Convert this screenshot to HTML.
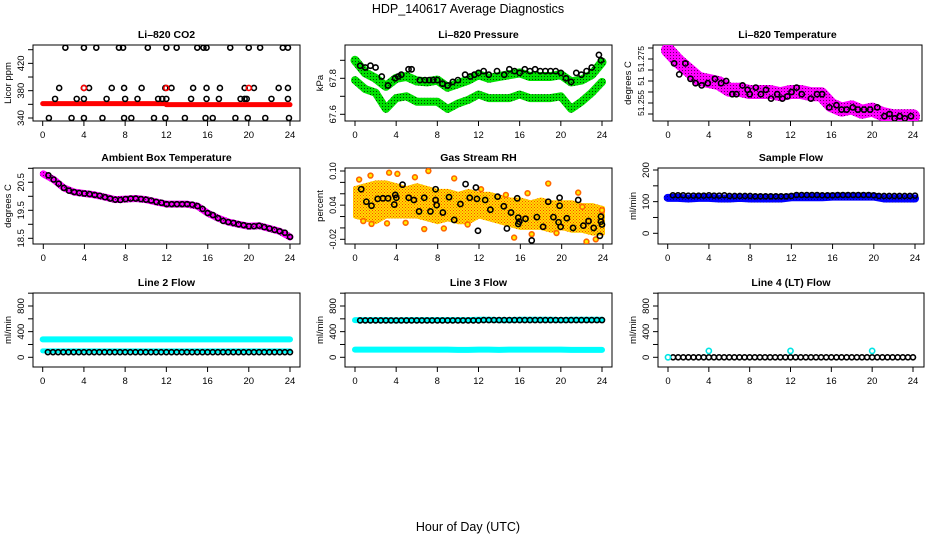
<!DOCTYPE html>
<html><head><meta charset="utf-8"><style>
body{margin:0;background:#fff}
svg{display:block;font-family:"Liberation Sans",sans-serif}
</style></head><body>
<svg id="c" width="936" height="540" viewBox="0 0 936 540" xmlns="http://www.w3.org/2000/svg">
<defs>
<pattern id="pG" width="3" height="3" patternUnits="userSpaceOnUse"><rect width="3" height="3" fill="#00e000"/><rect x="1" y="1" width="1" height="1" fill="#004400"/></pattern>
<pattern id="pM" width="3" height="3" patternUnits="userSpaceOnUse"><rect width="3" height="3" fill="#ff00ff"/><rect x="1" y="1" width="1" height="1" fill="#660066"/></pattern>
<pattern id="pO" width="3" height="3" patternUnits="userSpaceOnUse"><rect width="3" height="3" fill="#ffdd00"/><rect x="0" y="0" width="1" height="1" fill="#ff4400"/><rect x="1.5" y="1.5" width="1" height="1" fill="#ff4400"/></pattern>
<pattern id="pB" width="3" height="3" patternUnits="userSpaceOnUse"><rect width="3" height="3" fill="#0000ff"/><rect x="1" y="1" width="1" height="1" fill="#000088"/></pattern>
</defs>
<text x="468" y="13" text-anchor="middle" font-size="12.5">HDP_140617  Average Diagnostics</text>
<text x="468" y="531" text-anchor="middle" font-size="12.5">Hour of Day (UTC)</text>
</svg>
<script>
// ---- data ----
const xTicks=[0,4,8,12,16,20,24];
// CO2
const co2BandH=[0,12,12,24];
const co2BandV=[361,361,359.5,359.5];
const co2TopH=[2.2,4,5.2,7.4,7.8,10.2,12,13,15,15.6,15.9,18.2,20,21.1,23.3,23.8];
const co2MidH=[1.6,4,4.5,6.7,7.9,9.6,11.9,12.5,14.6,15.9,17.2,19.6,20.5,22.9,23.8];
const co2LowH=[1.2,3.3,4,6.2,8,9.2,11.2,11.6,12,14.4,15.9,17.1,19.2,19.6,19.8,22.2,23.8];
const co2BotH=[0.6,2.8,4,5.8,7.9,8.6,10.8,11.9,13.8,15.8,16.5,18.7,19.9,21.6,23.9];
const co2Levels=[443,384,368,340];
const co2RedH=[4,12,20];
// Pressure
const hrs=[0,1,2,3,4,5,6,7,8,9,10,11,12,13,14,15,16,17,18,19,20,21,22,23,24];
const presUpper=[67.9,67.83,67.8,67.755,67.8,67.81,67.785,67.78,67.79,67.75,67.77,67.79,67.82,67.8,67.81,67.82,67.83,67.81,67.81,67.81,67.82,67.78,67.79,67.82,67.89];
const presLower=[67.79,67.74,67.72,67.63,67.69,67.7,67.67,67.67,67.67,67.63,67.66,67.68,67.71,67.69,67.69,67.69,67.71,67.69,67.69,67.69,67.7,67.63,67.67,67.72,67.78];
const presBlkH=[0.5,1,1.5,2,2.6,3.2,3.9,4.2,4.5,5.2,5.5,6.3,6.8,7.2,7.6,8,8.5,9,9.5,10,10.7,11.2,11.6,12,12.5,13,13.8,14.5,15,15.5,16,16.5,17,17.5,18,18.5,19,19.5,20,20.5,21,21.5,22,22.5,23,23.7,23.9];
const presBlkV=[67.87,67.86,67.87,67.86,67.81,67.76,67.8,67.81,67.82,67.85,67.85,67.79,67.79,67.79,67.79,67.79,67.77,67.76,67.78,67.79,67.82,67.81,67.82,67.83,67.84,67.82,67.84,67.82,67.85,67.84,67.83,67.85,67.84,67.85,67.84,67.84,67.84,67.84,67.83,67.8,67.78,67.83,67.82,67.84,67.86,67.93,67.9];
// Li-820 temperature
const tempBand=[51.279,51.274,51.27,51.266,51.265,51.264,51.261,51.261,51.26,51.26,51.26,51.259,51.26,51.26,51.259,51.259,51.254,51.252,51.253,51.251,51.252,51.25,51.249,51.249,51.249];
const tempBlkH=[0.6,1.1,1.7,2.2,2.7,3.3,3.9,4.6,5.2,5.7,6.3,6.7,7.3,7.8,8,8.6,9.1,9.6,10.1,10.7,11.2,11.7,12.1,12.6,13.1,14,14.6,15.1,15.8,16.5,17,17.5,18.1,18.6,19.2,19.8,20.5,21.2,21.7,22.2,22.7,23.2,23.8];
const tempBlkV=[51.273,51.268,51.273,51.266,51.264,51.263,51.264,51.266,51.264,51.265,51.259,51.259,51.263,51.261,51.259,51.262,51.259,51.261,51.257,51.259,51.257,51.258,51.26,51.262,51.259,51.257,51.259,51.259,51.253,51.254,51.252,51.252,51.253,51.252,51.252,51.252,51.253,51.249,51.25,51.248,51.249,51.248,51.249];
// Ambient
const ambBand=[20.8,20.6,20.3,20.15,20.1,20.05,19.97,19.88,19.9,19.92,19.88,19.8,19.72,19.72,19.72,19.65,19.4,19.22,19.08,19.0,18.93,18.95,18.85,18.75,18.55];
const halfH=[0.5,1,1.5,2,2.5,3,3.5,4,4.5,5,5.5,6,6.5,7,7.5,8,8.5,9,9.5,10,10.5,11,11.5,12,12.5,13,13.5,14,14.5,15,15.5,16,16.5,17,17.5,18,18.5,19,19.5,20,20.5,21,21.5,22,22.5,23,23.5,24];
const ambBlk=[20.75,20.6,20.45,20.3,20.2,20.15,20.12,20.1,20.08,20.05,20.02,19.97,19.92,19.88,19.87,19.9,19.92,19.92,19.9,19.88,19.85,19.8,19.77,19.72,19.72,19.72,19.72,19.72,19.7,19.65,19.55,19.4,19.33,19.22,19.12,19.08,19.05,19.0,18.97,18.93,18.93,18.95,18.9,18.85,18.8,18.75,18.7,18.55];
// RH
const rhUpper=[0.07,0.075,0.08,0.08,0.075,0.07,0.075,0.07,0.065,0.065,0.06,0.065,0.06,0.06,0.055,0.05,0.05,0.045,0.05,0.045,0.045,0.045,0.04,0.04,0.035];
const rhLower=[0.02,0.015,0.01,0.02,0.02,0.02,0.02,0.015,0.01,0.015,0.01,0.01,0.02,0.015,0.01,0.005,0,0,0,-0.005,0,-0.005,-0.005,-0.01,-0.01];
const rhOutH=[0.4,1.5,0.8,1.6,3.3,3.1,4.1,4.9,5.8,6.7,7.1,8.6,9.6,10.9,12.2,14.6,15.4,16.7,17.1,18.7,19.5,21.6,22,22.4,23.3,23.9];
const rhOutV=[0.085,0.092,0.012,0.007,0.097,0.008,0.095,0.009,0.089,-0.002,0.1,-0.001,0.087,0.006,0.068,0.058,-0.017,0.061,-0.011,0.078,-0.009,0.062,0.037,-0.024,-0.02,0.031];
const rhBlkH=[0.6,1.1,1.6,2.2,2.7,3.2,3.8,3.9,4,4.6,5.2,5.7,6.2,6.7,7.3,7.8,7.8,7.9,8.5,9.1,9.6,10.2,10.7,11.1,11.7,11.8,11.9,12.6,13.1,13.8,14.4,14.7,15.1,15.7,15.8,15.9,15.8,16.5,17.1,17.6,18.2,18.7,19.2,19.7,19.8,19.8,19.9,20.5,21.1,21.6,22.1,22.6,23.1,23.8,23.8,23.7,23.9];
const rhBlkV=[0.068,0.046,0.039,0.051,0.052,0.052,0.041,0.058,0.053,0.076,0.053,0.049,0.029,0.053,0.029,0.068,0.049,0.04,0.027,0.054,0.014,0.042,0.077,0.053,0.071,0.051,-0.005,0.049,0.032,0.055,0.038,-0.001,0.027,0.052,0.018,0.011,0.007,0.016,-0.022,0.019,0.002,0.046,0.019,0.01,0.039,0.053,0.002,0.017,0,0.049,0.004,0.012,0,0.02,0.011,-0.014,0.006];
// Flows
const sampBand=[112,112,110,112,112,110,110,112,110,110,110,110,114,114,114,114,116,116,116,116,116,110,110,110,110];
const sampBlk=[120,120,120,119,119,119,119,120,119,119,120,118,118,118,118,118,117,117,117,117,117,117,117,118,121,121,121,121,121,120,120,120,121,121,121,121,121,121,121,120,118,118,118,118,118,118,118,119];
const l2Cyan1=[280,280,280,280,280,280,280,280,280,280,280,280,280,280,280,280,280,280,280,280,280,280,280,280,280];
const l2Cyan2=[100,100,100,100,100,100,100,100,100,100,100,100,100,100,100,100,100,100,100,100,100,100,100,100,100];
const l2Blk=[80,80,80,80,80,80,80,80,80,80,80,80,80,80,80,80,80,80,80,80,80,80,80,80,80,80,80,80,80,80,80,80,80,80,80,80,80,80,80,80,80,80,80,80,80,80,80,80];
const l3Cyan1=[580,580,580,580,575,580,580,580,580,580,580,580,585,585,580,580,585,585,585,585,580,585,585,585,585];
const l3Cyan2=[120,120,120,120,120,120,120,120,120,120,115,115,120,120,115,120,120,120,120,120,120,115,115,115,115];
const l3Blk=[575,575,575,575,575,575,575,575,575,575,575,575,575,575,575,575,575,575,575,575,575,575,575,575,580,580,580,580,580,580,580,580,580,580,580,580,580,580,580,580,580,580,580,580,580,580,580,580];
const l4Blk=[0,0,0,0,0,0,0,0,0,0,0,0,0,0,0,0,0,0,0,0,0,0,0,0,0,0,0,0,0,0,0,0,0,0,0,0,0,0,0,0,0,0,0,0,0,0,0,0];
const l4CyanH=[0,4,12,20];
const l4CyanV=[0,100,100,100];

// ---- drawing ----
const svg=document.getElementById('c');
const NS='http://www.w3.org/2000/svg';
function mk(tag,attrs,parent){const e=document.createElementNS(NS,tag);for(const k in attrs)e.setAttribute(k,attrs[k]);(parent||svg).appendChild(e);return e;}
function lin(d0,d1,r0,r1){return v=>r0+(v-d0)*(r1-r0)/(d1-d0);}

function panel(p){
  const g=mk('g',{});
  
  
  p.g=g;
  p.x=lin(0,24,p.x0,p.x24);
  p.y=lin(p.v0,p.v1,p.y0,p.y1);
  const b=mk('rect',{x:p.L,y:p.T,width:p.R-p.L,height:p.B-p.T,fill:'none',stroke:'#000','stroke-width':1},g);
  
  
  const t=mk('text',{x:(p.L+p.R)/2,y:p.T-7,'text-anchor':'middle','font-size':10.5,'font-weight':'bold'},g);
  t.textContent=p.title;
  
  
  const xa=mk('g',{},g);
  
  
  xTicks.forEach(v=>{
    const X=p.x(v);
    mk('line',{x1:X,x2:X,y1:p.B,y2:p.B+5,stroke:'#000'},xa);
    const tl=mk('text',{x:X,y:p.B+17,'text-anchor':'middle','font-size':9.5},xa);
    tl.textContent=v;
    
    
  });
  const ya=mk('g',{},g);
  
  
  p.yt.forEach(v=>{const Y=p.y(v);mk('line',{x1:p.L-5,x2:p.L,y1:Y,y2:Y,stroke:'#000'},ya);});
  p.yl.forEach((v,i)=>{
    const Y=p.y(v);
    const tl=mk('text',{x:0,y:0,'text-anchor':'middle','font-size':p.yfs||9.5,transform:`translate(${p.L-9},${Y}) rotate(-90)`},ya);
    tl.textContent=p.ylt?p.ylt[i]:v;
    
    
  });
  const yt=mk('text',{x:0,y:0,'text-anchor':'middle','font-size':9.5,transform:`translate(${p.L-22},${(p.T+p.B)/2}) rotate(-90)`},g);
  yt.textContent=p.ylab;
  
  
  const cid='cl'+p.name;
  const cp=mk('clipPath',{id:cid});
  mk('rect',{x:p.L,y:p.T,width:p.R-p.L,height:p.B-p.T},cp);
  p.m=mk('g',{'clip-path':`url(#${cid})`},g);
  return p;
}
function band(p,H,V,stroke,w,name){
  const pts=H.map((h,i)=>p.x(h)+','+p.y(V[i])).join(' ');
  const e=mk('polyline',{points:pts,fill:'none',stroke:stroke,'stroke-width':w,'stroke-linejoin':'round','stroke-linecap':'round'},p.m);
  
  
}
function pts(p,H,V,color,r,name,fill){
  const g=mk('g',{},p.m);
  
  
  H.forEach((h,i)=>{mk('circle',{cx:p.x(h),cy:p.y(V[i]),r:r,fill:fill||'none',stroke:color,'stroke-width':1.6},g);});
}

// Row 1
const p1=panel({name:'co2-panel',title:'Li\u2013820 CO2',ylab:'Licor ppm',L:33,R:300,T:45,B:121,x0:42.7,x24:290,v0:340,v1:440,y0:118,y1:49.7,yt:[340,360,380,400,420,440],yl:[340,380,420]});
band(p1,co2BandH,co2BandV,'#ff0000',5,'co2-red-band');
pts(p1,co2TopH,co2TopH.map(()=>co2Levels[0]),'#000',2.5,'co2-points-443');
pts(p1,co2MidH,co2MidH.map(()=>co2Levels[1]),'#000',2.5,'co2-points-384');
pts(p1,co2LowH,co2LowH.map(()=>co2Levels[2]),'#000',2.5,'co2-points-368');
pts(p1,co2BotH,co2BotH.map(()=>co2Levels[3]),'#000',2.5,'co2-points-340');
pts(p1,co2RedH,co2RedH.map(()=>co2Levels[1]),'#ff0000',2.5,'co2-red-points');

const p2=panel({name:'pressure-panel',title:'Li\u2013820 Pressure',ylab:'kPa',L:345,R:612,T:45,B:121,x0:355,x24:602,v0:67.6,v1:67.8,y0:114.3,y1:78.3,yt:[67.6,67.7,67.8,67.9],yl:[67.6,67.8]});
band(p2,hrs,presUpper,'url(#pG)',9,'pressure-upper-band');
band(p2,hrs,presLower,'url(#pG)',8,'pressure-lower-band');
pts(p2,presBlkH,presBlkV,'#000',2.6,'pressure-black-points');

const p3=panel({name:'li820-temperature-panel',title:'Li\u2013820 Temperature',ylab:'degrees C',L:653,R:922,T:45,B:121,x0:668,x24:913,v0:51.25,v1:51.28,y0:114,y1:48,yt:[51.25,51.255,51.26,51.265,51.27,51.275,51.28],yl:[51.255,51.265,51.275],ylt:['51.255','51','51.275'],yfs:8.5});
band(p3,hrs,tempBand,'url(#pM)',14,'temperature-magenta-band');
pts(p3,tempBlkH,tempBlkV,'#000',2.6,'temperature-black-points');

// Row 2
const p4=panel({name:'ambient-temperature-panel',title:'Ambient Box Temperature',ylab:'degrees C',L:33,R:300,T:168,B:244,x0:43.3,x24:290,v0:18.5,v1:20.5,y0:238.3,y1:182.3,yt:[18.5,19,19.5,20,20.5,21],yl:[18.5,19.5,20.5]});
band(p4,hrs,ambBand,'url(#pM)',7,'ambient-magenta-band');
pts(p4,halfH,ambBlk,'#000',2.5,'ambient-black-points');

const p5=panel({name:'rh-panel',title:'Gas Stream RH',ylab:'percent',L:345,R:612,T:168,B:244,x0:355,x24:603,v0:-0.02,v1:0.1,y0:239.3,y1:171,yt:[-0.02,0,0.02,0.04,0.06,0.08,0.1],yl:[-0.02,0.04,0.1],ylt:['-0.02','0.04','0.10'],yfs:9});
{
  const up=hrs.map((h,i)=>p5.x(h)+','+p5.y(rhUpper[i]));
  const lo=hrs.map((h,i)=>p5.x(h)+','+p5.y(rhLower[i])).reverse();
  const poly=mk('polygon',{points:up.concat(lo).join(' '),fill:'url(#pO)',stroke:'url(#pO)','stroke-width':4,'stroke-linejoin':'round'},p5.m);
  
  
}
pts(p5,rhOutH,rhOutV,'#ff6600',2.4,'rh-outlier-points','#ffee00');
pts(p5,rhBlkH,rhBlkV,'#000',2.6,'rh-black-points');

const p6=panel({name:'sample-flow-panel',title:'Sample Flow',ylab:'ml/min',L:658,R:924,T:168,B:244,x0:667.7,x24:915,v0:0,v1:200,y0:233.3,y1:170,yt:[0,50,100,150,200],yl:[0,100,200]});
band(p6,hrs,sampBand,'url(#pB)',8,'sample-flow-blue-band');
pts(p6,halfH,sampBlk,'#000',2.5,'sample-flow-black-points');

// Row 3
const p7=panel({name:'line2-flow-panel',title:'Line 2 Flow',ylab:'ml/min',L:33,R:300,T:293,B:367,x0:42.7,x24:290,v0:0,v1:800,y0:357.3,y1:306,yt:[0,200,400,600,800,1000],yl:[0,400,800]});
band(p7,hrs,l2Cyan1,'#00ffff',6,'line2-cyan-upper');
band(p7,hrs,l2Cyan2,'#00ffff',5,'line2-cyan-lower');
pts(p7,halfH,l2Blk,'#000',2.5,'line2-black-points');

const p8=panel({name:'line3-flow-panel',title:'Line 3 Flow',ylab:'ml/min',L:345,R:612,T:293,B:367,x0:355,x24:602,v0:0,v1:800,y0:357.3,y1:306,yt:[0,200,400,600,800,1000],yl:[0,400,800]});
band(p8,hrs,l3Cyan1,'#00ffff',6,'line3-cyan-upper');
band(p8,hrs,l3Cyan2,'#00ffff',6,'line3-cyan-lower');
pts(p8,halfH,l3Blk,'#000',2.5,'line3-black-points');

const p9=panel({name:'line4-flow-panel',title:'Line 4 (LT) Flow',ylab:'ml/min',L:658,R:924,T:293,B:367,x0:668,x24:913,v0:0,v1:800,y0:357.3,y1:306,yt:[0,200,400,600,800,1000],yl:[0,400,800]});
pts(p9,halfH,l4Blk,'#000',2.5,'line4-black-points');
pts(p9,l4CyanH,l4CyanV,'#00e5e5',2.6,'line4-cyan-points');
</script>
</body></html>
